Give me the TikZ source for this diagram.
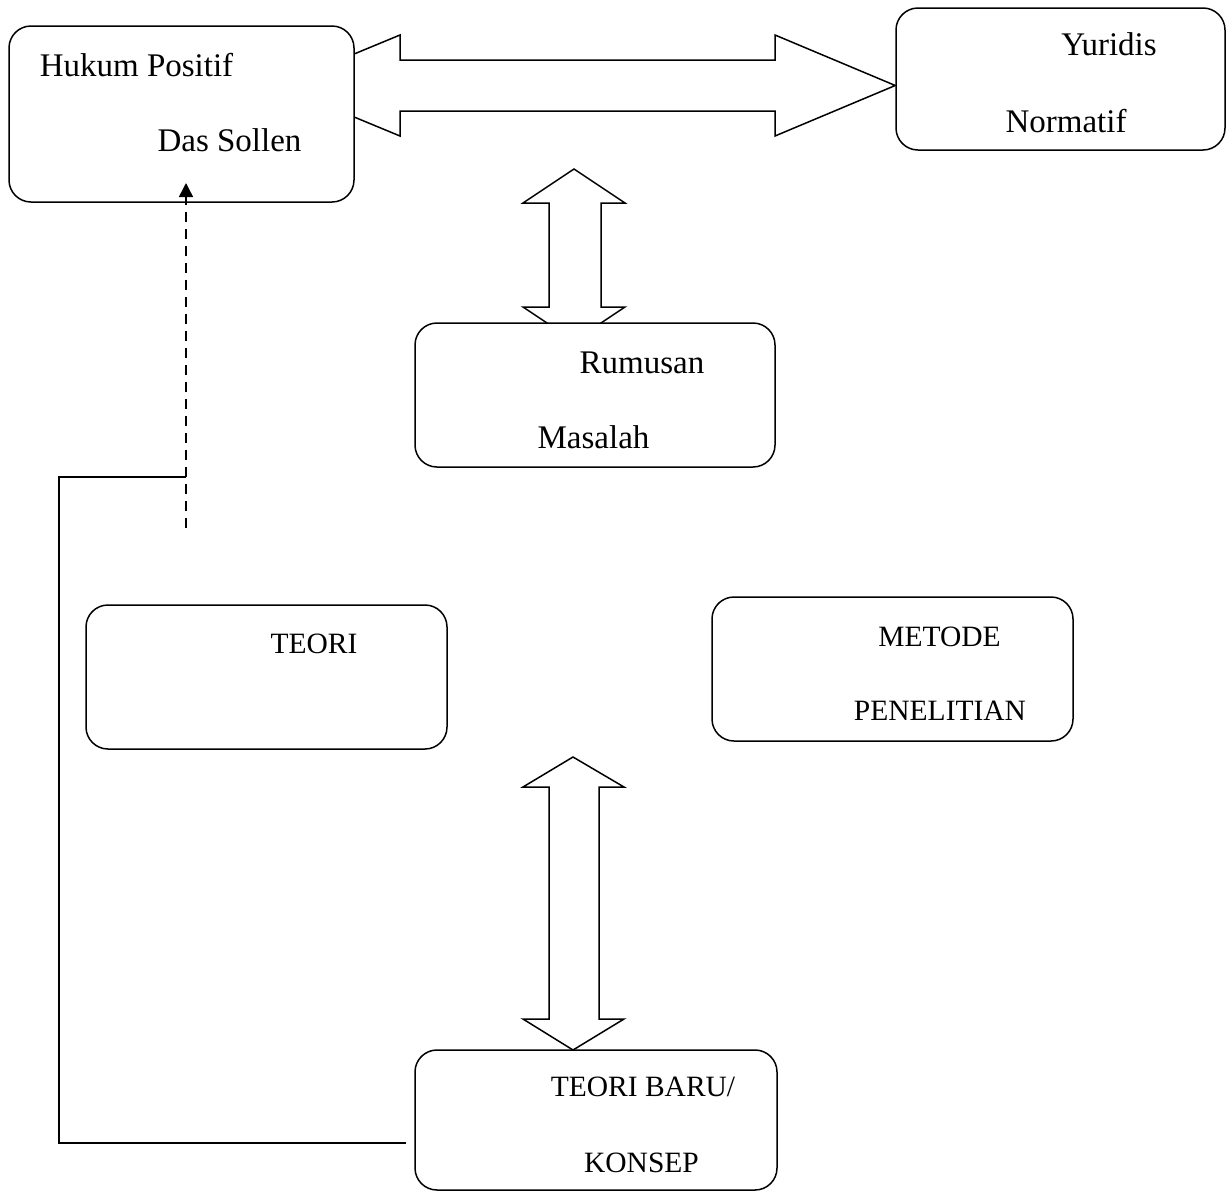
\documentclass[tikz,border=0pt]{standalone}
\usepackage{fontspec}
\setmainfont{Liberation Serif}
\usetikzlibrary{arrows.meta,calc}
\pgfdeclarelayer{background}
\pgfsetlayers{background,main}
\begin{document}
\begin{tikzpicture}[x=1pt,y=-1pt,
  box/.style={draw,line width=1.5pt,rounded corners=22pt,fill=white,inner sep=0pt},
  lbl/.style={anchor=base,inner sep=0pt,font=\fontsize{33}{39}\selectfont},
  caps/.style={lbl,font=\fontsize{29.5}{35}\selectfont},
  blockarrow/.style={draw,line width=1.5pt,line join=miter},
  conn/.style={draw,line width=1.5pt},
  dashconn/.style={draw,line width=1.5pt,dash pattern=on 10pt off 7pt,-{Triangle[width=14pt,length=14pt]}}]
\useasboundingbox (0,0) rectangle (1228,1192);

% boxes
\node[box,minimum width=345pt,minimum height=176pt] (hp) at (181.5,114) {};
\node[box,minimum width=329pt,minimum height=142pt] (yn) at (1060.5,79) {};
\node[box,minimum width=360pt,minimum height=144pt] (rm) at (595,395) {};
\node[box,minimum width=361pt,minimum height=144pt] (teori) at (266.5,677) {};
\node[box,minimum width=361pt,minimum height=144pt] (metode) at (892.5,669) {};
\node[box,minimum width=362pt,minimum height=140pt] (baru) at (596,1120) {};

% labels
\node[lbl] (t1) at (136.5,76) {Hukum Positif};
\node[lbl] (t2) at (229.5,151) {Das Sollen};
\node[lbl] (t3) at (1109,55) {Yuridis};
\node[lbl] (t4) at (1066,132) {Normatif};
\node[lbl] (t5) at (642,373) {Rumusan};
\node[lbl] (t6) at (593.5,448) {Masalah};
\node[caps] (t7) at (314,653) {TEORI};
\node[caps] (t8) at (939.5,646) {METODE};
\node[caps] (t9) at (940,720) {PENELITIAN};
\node[caps] (t10) at (643,1096) {TEORI BARU/};
\node[caps] (t11) at (641.5,1172) {KONSEP};

% block arrows behind boxes
\begin{pgfonlayer}{background}
\path[blockarrow] (278,85.5) -- (400,35) -- (400,60) -- (775,60) -- (775,35)
  -- (yn.west |- 0,85.5) -- (775,136) -- (775,111) -- (400,111) -- (400,136) -- cycle;
\path[blockarrow] (574,169) -- (523,203) -- (549,203) -- (549,307) -- (523,307)
  -- (574,341) -- (625,307) -- (601,307) -- (601,203) -- (625,203) -- cycle;
\path[blockarrow] (573,757) -- (523,787) -- (549,787) -- (549,1019) -- (523,1019)
  -- (573,1050) -- (624,1019) -- (599,1019) -- (599,787) -- (624,787) -- cycle;
\end{pgfonlayer}

% connectors
\coordinate (c1) at (406,1143);
\coordinate (c2) at (59,1143);
\coordinate (c3) at (59,477);
\coordinate (c4) at (186,477);
\coordinate (d0) at (186,528);
\coordinate (d1) at (186,183);
\path[conn] (c1) -- (c2) -- (c3) -- (c4);
\path[dashconn] (d0) -- (d1);
\end{tikzpicture}
\end{document}
